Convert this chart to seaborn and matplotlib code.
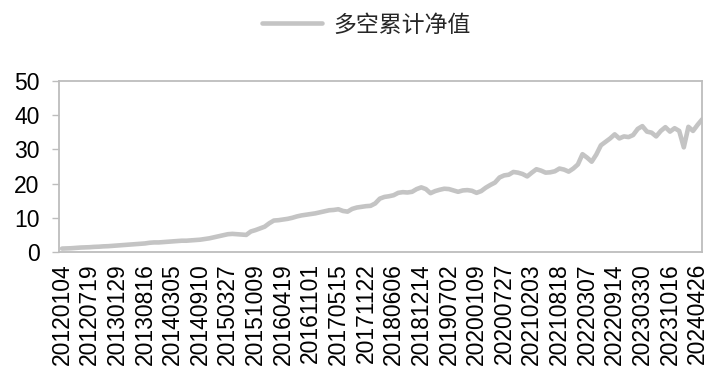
import matplotlib
matplotlib.use("Agg")
import matplotlib.pyplot as plt
import seaborn as sns
import numpy as np
import pandas as pd

tick_labels = ["20120104", "20120719", "20130129", "20130816", "20140305", "20140910",
               "20150327", "20151009", "20160419", "20161101", "20170515", "20171122",
               "20180606", "20181214", "20190702", "20200109", "20200727", "20210203",
               "20210818", "20220307", "20220914", "20230330", "20231016", "20240426"]

series_name = "多空累计净值"

nav_values = [
    1.0, 1.05, 1.1, 1.2, 1.3, 1.35, 1.4, 1.5, 1.55, 1.65, 1.7, 1.8,
    1.9, 2.0, 2.1, 2.2, 2.3, 2.4, 2.5, 2.7, 2.8, 2.8, 2.9, 3.0,
    3.1, 3.2, 3.3, 3.3, 3.4, 3.5, 3.6, 3.8, 4.0, 4.3, 4.6, 4.9,
    5.2, 5.3, 5.2, 5.1, 5.0, 6.0, 6.4, 6.9, 7.4, 8.4, 9.2, 9.3,
    9.5, 9.7, 10.0, 10.4, 10.7, 10.9, 11.1, 11.3, 11.6, 11.9, 12.2, 12.3,
    12.5, 12.0, 11.8, 12.6, 13.0, 13.2, 13.4, 13.5, 14.2, 15.6, 16.1, 16.3,
    16.6, 17.3, 17.5, 17.4, 17.6, 18.4, 18.9, 18.4, 17.2, 17.8, 18.2, 18.5,
    18.4, 18.0, 17.6, 18.0, 18.1, 17.9, 17.3, 17.8, 18.8, 19.6, 20.3, 21.8,
    22.4, 22.6, 23.4, 23.2, 22.8, 22.1, 23.2, 24.2, 23.8, 23.2, 23.3, 23.6,
    24.4, 24.1, 23.5, 24.4, 25.6, 28.6, 27.6, 26.4, 28.5, 31.2, 32.2, 33.2,
    34.4, 33.2, 33.8, 33.6, 34.2, 36.0, 36.8, 35.2, 34.9, 33.8, 35.4, 36.5,
    35.2, 36.2, 35.4, 30.6, 36.6, 35.4, 37.2, 38.8,
]

points_per_label = 6

sns.set_style("white")
plt.rcParams['font.family'] = ['Liberation Sans', 'Noto Sans CJK SC', 'DejaVu Sans']

df = pd.DataFrame({"idx": np.arange(len(nav_values)), "nav": nav_values})

fig = plt.figure(figsize=(7.14, 3.84), dpi=100)
ax = fig.add_axes([59/714, 1-252/384, (702-59)/714, (252-81)/384])

line_color = "#C4C4C4"
sns.lineplot(data=df, x="idx", y="nav", ax=ax, color=line_color, linewidth=3.3,
             label=series_name, legend=False)

ax.set_xlim(-0.65, len(nav_values) - 1.05)
ax.set_ylim(0, 50)
ax.set_yticks([0, 10, 20, 30, 40, 50])
ax.set_xticks([i * points_per_label for i in range(len(tick_labels))])
ax.set_xticklabels(tick_labels, rotation=90)
ax.set_xlabel("")
ax.set_ylabel("")

spine_color = "#BDBDBD"
for s in ax.spines.values():
    s.set_visible(True)
    s.set_color(spine_color)
    s.set_linewidth(1.3)

ax.tick_params(axis="y", which="major", length=5, width=1.0, color=spine_color,
               labelsize=16.5, pad=9, left=True, direction="out")
ax.tick_params(axis="x", which="major", length=0, labelsize=16.5, pad=8)
for lab in ax.get_xticklabels() + ax.get_yticklabels():
    lab.set_color("#000000")

handles, labels = ax.get_legend_handles_labels()
leg = fig.legend(handles, labels, loc="center", bbox_to_anchor=(0.513, 0.935),
                 frameon=False, handlelength=2.6, handletextpad=0.5,
                 prop={"family": ["Noto Sans CJK SC", "DejaVu Sans"], "size": 16.5})

fig.savefig("out.png", dpi=100)
